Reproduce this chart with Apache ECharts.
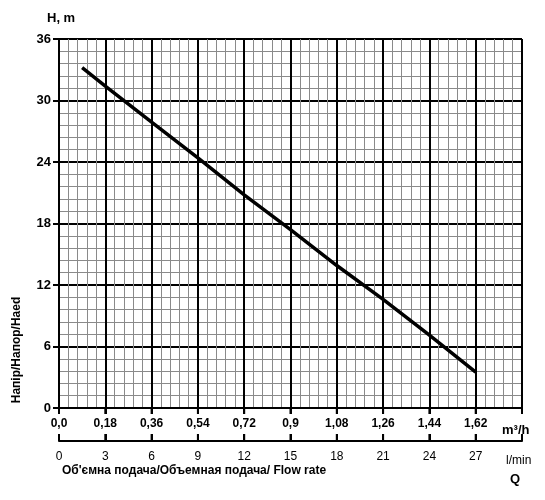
<!DOCTYPE html>
<html><head><meta charset="utf-8">
<script src="https://cdn.jsdelivr.net/npm/echarts@6/dist/echarts.min.js"></script>
<style>html,body{margin:0;padding:0;background:#fff}#c{width:545px;height:500px}</style>
</head><body><div id="c"></div>
<script>
var flowM3h = [0.09, 0.18, 0.36, 0.54, 0.72, 0.9, 1.08, 1.26, 1.44, 1.62];
var headM = [33.2, 31.4, 27.9, 24.4, 20.8, 17.4, 13.9, 10.6, 7.1, 3.5];
var m3hTicks = ['0,0','0,18','0,36','0,54','0,72','0,9','1,08','1,26','1,44','1,62','1,8'];
var lminTicks = ['0','3','6','9','12','15','18','21','24','27','30'];
var headTicks = ['0','6','12','18','24','30','36'];

var FONT = 'Liberation Sans, Arial, sans-serif';
var chart = echarts.init(document.getElementById('c'));
var data = flowM3h.map(function (q, i) { return [q, headM[i]]; });

var texts = [
  { type: 'text', left: 47, top: 12, style: { text: 'H, m', font: 'bold 13px ' + FONT, fill: '#000' } },
  { type: 'text', x: 17, y: 350, rotation: Math.PI / 2,
    style: { text: 'Напір/Напор/Haed', font: 'bold 12px ' + FONT, fill: '#000', align: 'center', verticalAlign: 'middle' } },
  { type: 'text', left: 502, top: 424, style: { text: 'm³/h', font: 'bold 13px ' + FONT, fill: '#000' } },
  { type: 'text', left: 506, top: 455, style: { text: 'l/min', font: '12px ' + FONT, fill: '#000' } },
  { type: 'text', left: 510, top: 473, style: { text: 'Q', font: 'bold 13px ' + FONT, fill: '#000' } },
  { type: 'text', left: 62, top: 465, style: { text: "Об'ємна подача/Объемная подача/ Flow rate", font: 'bold 12px ' + FONT, fill: '#000' } }
];

chart.setOption({
  animation: false,
  grid: { left: 59, right: 23, top: 39, bottom: 92 },
  xAxis: [
    {
      type: 'value', min: 0, max: 1.8, interval: 0.18,
      axisLine: { show: true, lineStyle: { color: '#000', width: 2 } },
      axisTick: { show: true, length: 6, lineStyle: { color: '#000', width: 2 } },
      axisLabel: {
        margin: 10, color: '#000', fontFamily: FONT, fontWeight: 'bold', fontSize: 12,
        showMaxLabel: false,
        formatter: function (v) { var i = Math.round(v / 0.18); return m3hTicks[i] || ' '; }
      },
      splitLine: { show: true, lineStyle: { color: '#000', width: 2 } },
      minorSplitLine: { show: true, lineStyle: { color: '#8a8a8a', width: 1 } }
    },
    {
      type: 'value', min: 0, max: 30, interval: 3, position: 'bottom', offset: 33,
      axisLine: { show: true, onZero: false, lineStyle: { color: '#000', width: 2 } },
      axisTick: { show: true, inside: true, length: 7, lineStyle: { color: '#000', width: 2 } },
      axisLabel: {
        margin: 10, color: '#000', fontFamily: FONT, fontSize: 12,
        showMaxLabel: false,
        formatter: function (v) { var i = Math.round(v / 3); return lminTicks[i] || ' '; }
      },
      splitLine: { show: false }
    }
  ],
  yAxis: [
    {
      type: 'value', min: 0, max: 36, interval: 6,
      axisLine: { show: true, lineStyle: { color: '#000', width: 2 } },
      axisTick: { show: true, length: 6, lineStyle: { color: '#000', width: 2 } },
      axisLabel: {
        margin: 8, color: '#000', fontFamily: FONT, fontWeight: 'bold', fontSize: 13,
        formatter: function (v) { return headTicks[Math.round(v / 6)] || ' '; }
      },
      splitLine: { show: true, lineStyle: { color: '#000', width: 2 } },
      minorSplitLine: { show: true, lineStyle: { color: '#8a8a8a', width: 1 } }
    }
  ],
  series: [{
    type: 'line', xAxisIndex: 0, yAxisIndex: 0, data: data,
    showSymbol: false, symbol: 'none', z: 10,
    lineStyle: { color: '#000', width: 3.5 }
  }],
  graphic: texts
});

// Axis lines and ticks below the plot, positioned through the library's own scales
var lines = [];
var yBase = chart.convertToPixel({ yAxisIndex: 0 }, 0);
var xStart = chart.convertToPixel({ xAxisIndex: 0 }, 0);
var xEnd = chart.convertToPixel({ xAxisIndex: 0 }, 1.8);
var ySecond = yBase + 33;
var lineStyle = { stroke: '#000', lineWidth: 2 };
lines.push({ type: 'line', shape: { x1: xStart, y1: yBase, x2: xEnd, y2: yBase }, style: lineStyle, z: 20 });
for (var i = 0; i < m3hTicks.length; i++) {
  var px = chart.convertToPixel({ xAxisIndex: 0 }, i * 0.18);
  lines.push({ type: 'line', shape: { x1: px, y1: yBase, x2: px, y2: yBase + 6 }, style: lineStyle, z: 20 });
}
lines.push({ type: 'line', shape: { x1: xStart, y1: ySecond, x2: xEnd, y2: ySecond }, style: lineStyle, z: 20 });
for (var j = 0; j < lminTicks.length; j++) {
  var qx = chart.convertToPixel({ xAxisIndex: 1 }, j * 3);
  lines.push({ type: 'line', shape: { x1: qx, y1: ySecond - 7, x2: qx, y2: ySecond }, style: lineStyle, z: 20 });
}
chart.setOption({ graphic: texts.concat(lines) });
</script></body></html>
